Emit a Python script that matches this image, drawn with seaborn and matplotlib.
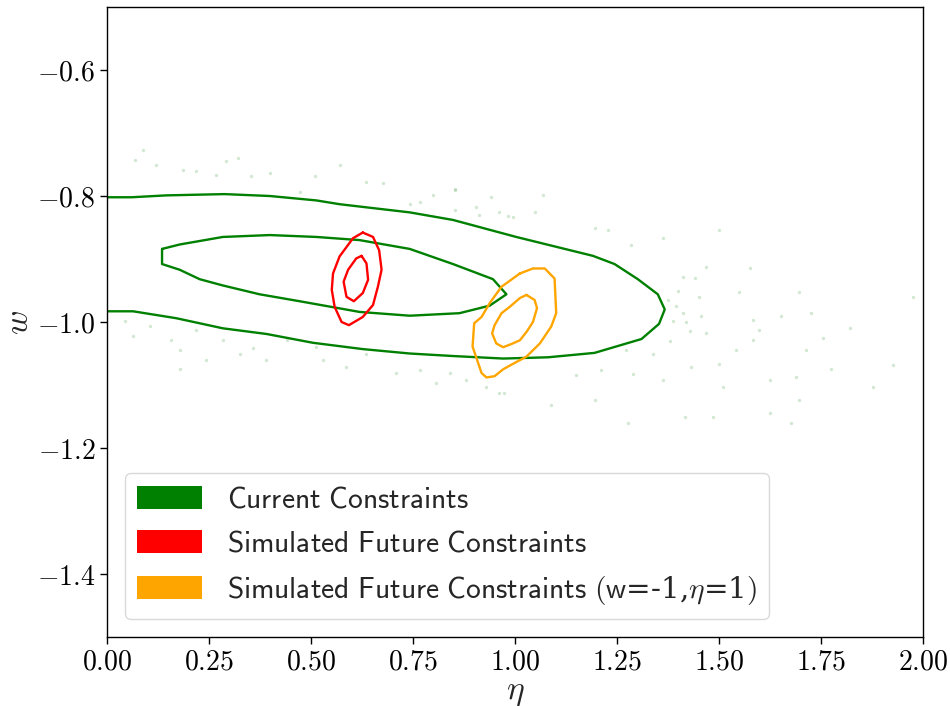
import numpy as np
import pandas as pd
import matplotlib
matplotlib.use("Agg")
import matplotlib.pyplot as plt
from matplotlib.patches import Patch
from matplotlib.ticker import FuncFormatter
import seaborn as sns

# ---------------- data ----------------
# Current constraints: outer (95%) contour, open at the eta=0 edge
cur_out_eta = [-0.05, 0.000, 0.060, 0.146, 0.288, 0.399, 0.513, 0.570, 0.636, 0.742, 0.848, 1.003,
               1.191, 1.244, 1.301, 1.350, 1.367, 1.353, 1.310, 1.195, 1.081, 0.971, 0.848,
               0.742, 0.627, 0.505, 0.391, 0.284, 0.170, 0.064, 0.000, -0.05]
cur_out_w = [-0.802, -0.802, -0.802, -0.799, -0.797, -0.800, -0.807, -0.813, -0.818, -0.826, -0.838, -0.865,
             -0.895, -0.908, -0.932, -0.956, -0.980, -1.003, -1.027, -1.049, -1.056, -1.058, -1.054,
             -1.050, -1.043, -1.033, -1.019, -1.010, -0.994, -0.983, -0.983, -0.983]
# Current constraints: inner (68%) contour
cur_in_eta = [0.135, 0.178, 0.284, 0.399, 0.513, 0.619, 0.742, 0.848, 0.946, 0.979, 0.938, 0.864,
              0.742, 0.619, 0.472, 0.374, 0.284, 0.227, 0.178, 0.135]
cur_in_w = [-0.884, -0.877, -0.865, -0.862, -0.865, -0.870, -0.884, -0.908, -0.932, -0.956, -0.974, -0.986,
            -0.990, -0.984, -0.967, -0.956, -0.942, -0.932, -0.917, -0.908]
# Simulated future constraints
sim_out_eta = [0.627, 0.652, 0.667, 0.673, 0.664, 0.652, 0.627, 0.593, 0.575, 0.558, 0.551, 0.554, 0.570, 0.603]
sim_out_w = [-0.858, -0.865, -0.886, -0.917, -0.944, -0.973, -0.992, -1.005, -1.000, -0.976, -0.949, -0.923, -0.896, -0.867]
sim_in_eta = [0.624, 0.636, 0.640, 0.627, 0.605, 0.587, 0.580, 0.591, 0.611]
sim_in_w = [-0.895, -0.907, -0.933, -0.954, -0.967, -0.960, -0.936, -0.917, -0.899]
# Simulated future constraints (w=-1, eta=1)
fid_out_eta = [1.012, 1.044, 1.073, 1.097, 1.101, 1.089, 1.061, 1.028, 0.999, 0.971, 0.950, 0.930, 0.918,
               0.907, 0.896, 0.900, 0.918, 0.938, 0.967]
fid_out_w = [-0.923, -0.915, -0.915, -0.931, -0.986, -1.007, -1.034, -1.055, -1.065, -1.075, -1.086, -1.088,
             -1.081, -1.060, -1.039, -1.002, -0.992, -0.970, -0.944]
fid_in_eta = [1.028, 1.048, 1.054, 1.044, 1.029, 1.012, 0.991, 0.971, 0.954, 0.944, 0.950, 0.967, 0.987, 1.012]
fid_in_w = [-0.957, -0.965, -0.978, -1.000, -1.015, -1.029, -1.035, -1.040, -1.034, -1.018, -1.005, -0.986,
            -0.976, -0.962]

# faint chain samples outside the contours (current constraints)
samp_eta = [0.088, 0.068, 0.121, 0.186, 0.219, 0.292, 0.321, 0.268, 0.354, 0.399, 0.472, 0.570, 0.509,
            0.636, 0.676, 0.852, 0.905, 0.962, 0.995, 0.742, 0.766, 0.043, 0.064, 0.105, 0.158, 0.178,
            0.219, 0.284, 0.325, 0.358, 0.390, 0.440, 0.513, 0.529, 0.587, 0.636, 0.709, 0.766, 0.807,
            0.840, 0.881, 0.930, 0.962, 0.178, 0.243,
            0.852, 0.799, 0.942, 1.068, 0.852, 0.913, 0.983, 1.048, 1.195, 1.228, 1.362, 1.285, 1.501,
            1.575, 1.469, 1.412, 1.452, 1.550, 1.697, 1.652, 1.726, 1.820, 1.755, 1.714, 1.599, 1.583,
            1.412, 1.387, 1.469, 1.542, 1.501, 1.432, 1.362, 1.509, 1.624, 1.689, 1.775, 1.926, 1.877,
            1.975, 1.697, 1.624, 1.677, 1.485, 1.416, 1.277, 1.195, 1.089, 0.974, 1.150, 1.211, 1.289,
            1.338, 1.273, 1.583, 1.400, 1.420, 1.380, 1.440, 1.395, 1.430, 1.375, 1.455]
samp_w = [-0.727, -0.743, -0.751, -0.759, -0.760, -0.745, -0.740, -0.767, -0.769, -0.764, -0.793, -0.751,
          -0.769, -0.777, -0.780, -0.790, -0.817, -0.825, -0.833, -0.812, -0.809, -0.999, -1.023, -1.007,
          -1.029, -1.044, -1.013, -1.029, -1.050, -1.042, -1.060, -1.029, -1.039, -1.060, -1.071, -1.050,
          -1.081, -1.076, -1.097, -1.081, -1.092, -1.103, -1.113, -1.074, -1.060,
          -0.789, -0.798, -0.802, -0.798, -0.822, -0.830, -0.832, -0.826, -0.851, -0.854, -0.867, -0.878,
          -0.854, -0.914, -0.912, -0.928, -0.960, -0.952, -0.952, -0.990, -0.985, -1.009, -1.026, -1.044,
          -1.013, -0.997, -0.986, -0.999, -1.018, -1.044, -1.066, -1.071, -1.092, -1.103, -1.092, -1.087,
          -1.074, -1.069, -1.103, -0.960, -1.123, -1.145, -1.161, -1.151, -1.150, -1.160, -1.123, -1.132,
          -1.113, -1.084, -1.076, -1.082, -1.050, -1.044, -1.029, -0.950, -1.000, -1.030, -0.930, -0.975,
          -1.015, -0.965, -0.990]

labels = ["Current Constraints", "Simulated Future Constraints",
          "Simulated Future Constraints (w=-1,$\\eta$=1)"]
colors = ["green", "red", "orange"]
x_ticks = [0.00, 0.25, 0.50, 0.75, 1.00, 1.25, 1.50, 1.75, 2.00]
y_ticks = [-1.4, -1.2, -1.0, -0.8, -0.6]

# ---------------- style ----------------
sns.set_theme(style="ticks")
plt.rcParams["mathtext.fontset"] = "cm"
plt.rcParams["font.family"] = ["DejaVu Serif"]
plt.rcParams["axes.edgecolor"] = "black"
plt.rcParams["axes.linewidth"] = 1.0
plt.rcParams["xtick.color"] = "black"
plt.rcParams["ytick.color"] = "black"

fig = plt.figure(figsize=(9.5, 7.06), dpi=100)
ax = fig.add_axes([0.1126, 0.0977, 0.8590, 0.8924])


def closed(xs, ys):
    return pd.DataFrame({"x": list(xs) + [xs[0]], "y": list(ys) + [ys[0]]})


sns.scatterplot(x=samp_eta, y=samp_w, ax=ax, color="#3a9a3a", s=6, alpha=0.22, linewidth=0, legend=False)

lw = 1.7
df = pd.DataFrame({"x": cur_out_eta, "y": cur_out_w})
sns.lineplot(data=df, x="x", y="y", sort=False, estimator=None, color=colors[0], lw=lw, ax=ax)
for xs, ys, c in [(cur_in_eta, cur_in_w, colors[0]),
                  (sim_out_eta, sim_out_w, colors[1]), (sim_in_eta, sim_in_w, colors[1]),
                  (fid_out_eta, fid_out_w, colors[2]), (fid_in_eta, fid_in_w, colors[2])]:
    sns.lineplot(data=closed(xs, ys), x="x", y="y", sort=False, estimator=None, color=c, lw=lw, ax=ax)

ax.set_xlim(0, 2)
ax.set_ylim(-1.5, -0.5)
ax.set_xticks(x_ticks)
ax.set_yticks(y_ticks)
ax.xaxis.set_major_formatter(FuncFormatter(lambda v, p: f"${v:.2f}$"))
ax.yaxis.set_major_formatter(FuncFormatter(lambda v, p: f"${v:.1f}$"))
ax.tick_params(labelsize=20, length=5, width=1, direction="out")
for s in ax.spines.values():
    s.set_visible(True)
    s.set_color("black")

ax.set_xlabel(r"$\eta$", fontsize=24, labelpad=0)
ax.set_ylabel(r"$w$", fontsize=24, labelpad=1)

sf_labels = [r"$\mathsf{Current\ Constraints}$",
             r"$\mathsf{Simulated\ Future\ Constraints}$",
             r"$\mathsf{Simulated\ Future\ Constraints\ (w}$=-1,$\eta$=1$\mathsf{)}$"]
handles = [Patch(facecolor=c, edgecolor="none") for c in colors]
leg = ax.legend(handles, sf_labels, loc="lower left", fontsize=21.2, frameon=True,
                handlelength=2.2, handleheight=0.8, handletextpad=0.85, labelspacing=0.55,
                borderpad=0.42, bbox_to_anchor=(0.0, 0.0), borderaxespad=0.6)
leg.get_frame().set_edgecolor("#d0d0d0")
leg.get_frame().set_alpha(0.8)

fig.savefig("out.png", dpi=100)
